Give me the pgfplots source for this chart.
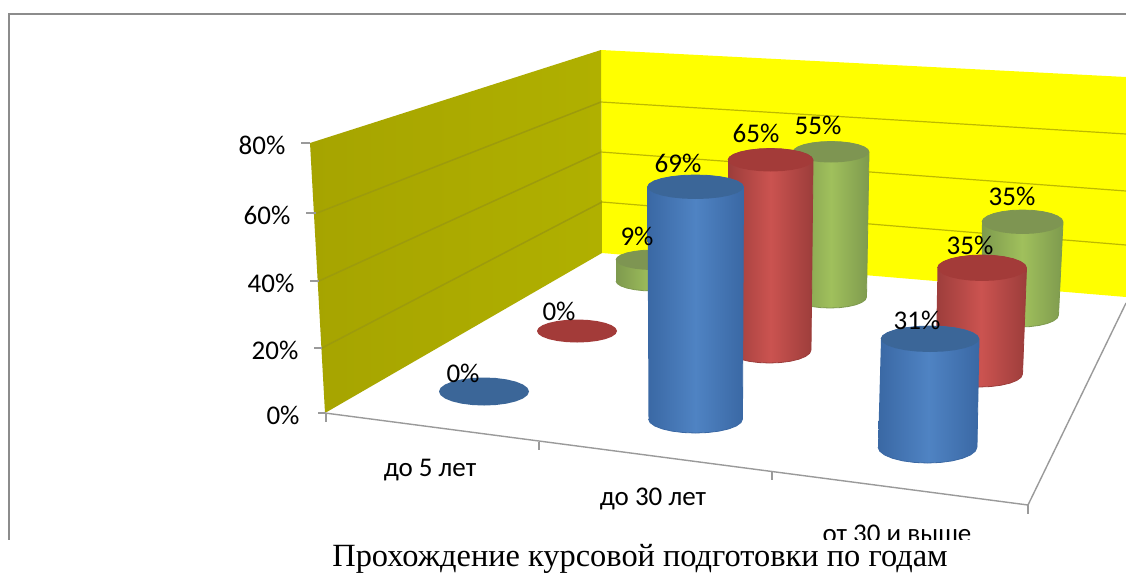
\documentclass[border=0pt]{standalone}
\usepackage{fontspec}
\setmainfont{Carlito}
\newfontfamily\capfont{Liberation Serif}
\usepackage{pgfplots}
\pgfplotsset{compat=1.18}

\definecolor{wallB}{RGB}{255,255,0}
\definecolor{wallL}{HTML}{A6A400}
\definecolor{wallLb}{HTML}{B0B000}
\definecolor{wallGrid}{HTML}{9D9B0C}
\definecolor{backGrid}{HTML}{BDB900}
\definecolor{frameGray}{HTML}{8C8C8C}
\definecolor{axGray}{HTML}{9A9A9A}
\definecolor{blueTop}{HTML}{3B6698}
\definecolor{blueEdge}{HTML}{3A68A4}
\definecolor{blueMid}{HTML}{4F83C3}
\definecolor{redTop}{HTML}{A33B39}
\definecolor{redEdge}{HTML}{9C3D3B}
\definecolor{redMid}{HTML}{CB5350}
\definecolor{greenTop}{HTML}{7E9552}
\definecolor{greenEdge}{HTML}{7E9A4E}
\definecolor{greenMid}{HTML}{A0C05C}

% points of an elliptical arc, appended to \pts
\newcommand{\arcpts}[7]{%
  \foreach \t in {#5,#6,...,#7}{%
    \pgfmathparse{#1+#3*cos(\t)}\let\px\pgfmathresult
    \pgfmathparse{#2+#4*sin(\t)}\let\py\pgfmathresult
    \xdef\pts{\pts (\px,\py) }}}
\def\plotptsi#1#2{\addplot[#2] coordinates {#1};}
\newcommand{\plotpts}[1]{\expandafter\plotptsi\expandafter{\pts}{#1}}

% flat disc: cx cy rx ry colour
\newcommand{\disc}[5]{%
  \gdef\pts{}\arcpts{#1}{#2}{#3}{#4}{0}{15}{345}%
  \plotpts{fill=#5, draw=none}}

% cylinder: top cx cy rx ry, bottom cx cy rx ry, colour prefix
\newcommand{\cyl}[9]{%
  \gdef\pts{}\arcpts{#5}{#6}{#7}{#8}{180}{165}{0}\arcpts{#1}{#2}{#3}{#4}{0}{-15}{-180}%
  \plotpts{draw=#9Edge, line width=0.8pt, left color=#9Edge, right color=#9Edge, middle color=#9Mid}%
  \disc{#1}{#2}{#3}{#4}{#9Top}}

\newcommand{\lab}[3]{\node[font=\fontsize{27}{32}\selectfont, inner sep=0pt] at (axis cs:#1,#2) {#3};}

\begin{document}
\begin{tikzpicture}
\begin{axis}[
    scale only axis,
    width=1126pt,
    height=574pt,
    xmin=0, xmax=1126,
    ymin=0, ymax=574,
    y dir=reverse,
    hide axis,
    no markers,
]
\addplot[fill=white, draw=none] coordinates {(0,0) (1126,0) (1126,574) (0,574)};
% frame
\addplot[frameGray, line width=2pt] coordinates {(8.5,540) (8.5,13.5) (1126,13.5)};

% walls
\addplot[fill=wallB, draw=none] coordinates {(601,50) (1126,77) (1126,297) (602,253)};
\addplot[draw=none, left color=wallL, right color=wallLb] coordinates {(310,143) (601,50) (602,253) (325,413)};
% wall grid lines, 60 40 20 %
\addplot[wallGrid, line width=1.5pt] coordinates {(317,213) (601,102)};
\addplot[wallGrid, line width=1.5pt] coordinates {(319,281) (601,152)};
\addplot[wallGrid, line width=1.5pt] coordinates {(322,348) (602,202)};
\addplot[backGrid, line width=1.2pt] coordinates {(601,102) (1126,134)};
\addplot[backGrid, line width=1.2pt] coordinates {(601,152) (1126,191)};
\addplot[backGrid, line width=1.2pt] coordinates {(602,202) (1126,245)};

% floor edges and ticks
\addplot[axGray, line width=1.4pt] coordinates {(325,413) (1028,505) (1126,303)};
\addplot[axGray, line width=1.2pt] coordinates {(326,413) (326,422)};
\addplot[axGray, line width=1.2pt] coordinates {(539,442) (539,450)};
\addplot[axGray, line width=1.2pt] coordinates {(772,472) (772,480)};
\addplot[axGray, line width=1.2pt] coordinates {(1028,505) (1028,514)};
\addplot[axGray, line width=1.2pt] coordinates {(301,143) (310,143)};
\addplot[axGray, line width=1.2pt] coordinates {(306,213) (316,213)};
\addplot[axGray, line width=1.2pt] coordinates {(310,281) (319,281)};
\addplot[axGray, line width=1.2pt] coordinates {(314,348) (322,348)};
\addplot[axGray, line width=1.2pt] coordinates {(318,413) (326,413)};

% back row first
\cyl{653}{260}{37}{10}{653}{281}{37}{10}{green}
\disc{577}{331}{40}{11.5}{redTop}
\disc{484}{391.5}{45}{14}{blueTop}
\cyl{831}{152}{38}{10.5}{830}{297}{36.5}{11}{green}
\cyl{770.5}{160}{42.5}{11.5}{769.5}{350}{41.5}{13}{red}
\cyl{695.5}{187}{48}{12}{695.5}{419}{47}{14}{blue}
\cyl{1022.5}{222}{40.5}{12}{1020}{315}{38.5}{12}{green}
\cyl{982}{268}{44.5}{13}{979}{374}{43.5}{13}{red}
\cyl{930}{339}{49}{13}{927.5}{447}{49.5}{16}{blue}

% value labels
\lab{463}{373}{0\%}
\lab{559}{311}{0\%}
\lab{637}{236}{9\%}
\lab{678}{163}{69\%}
\lab{756}{133}{65\%}
\lab{818}{125}{55\%}
\lab{917}{320}{31\%}
\lab{970}{245}{35\%}
\lab{1012}{196}{35\%}

% value axis
\lab{262}{145}{80\%}
\lab{267}{215}{60\%}
\lab{271}{283}{40\%}
\lab{275}{350}{20\%}
\lab{283}{415}{0\%}

% categories
\lab{430}{470}{до 5 лет}
\lab{653}{499}{до 30 лет}
\lab{897}{534}{от 30 и выше}

% chart is cut off above the caption
\addplot[fill=white, draw=none] coordinates {(0,540) (1126,540) (1126,574) (0,574)};
\node[overlay, font=\capfont\fontsize{32.4}{38}\selectfont, inner sep=0pt, anchor=base] at (axis cs:640,566.5) {Прохождение курсовой подготовки по годам};
\end{axis}
\end{tikzpicture}
\end{document}
